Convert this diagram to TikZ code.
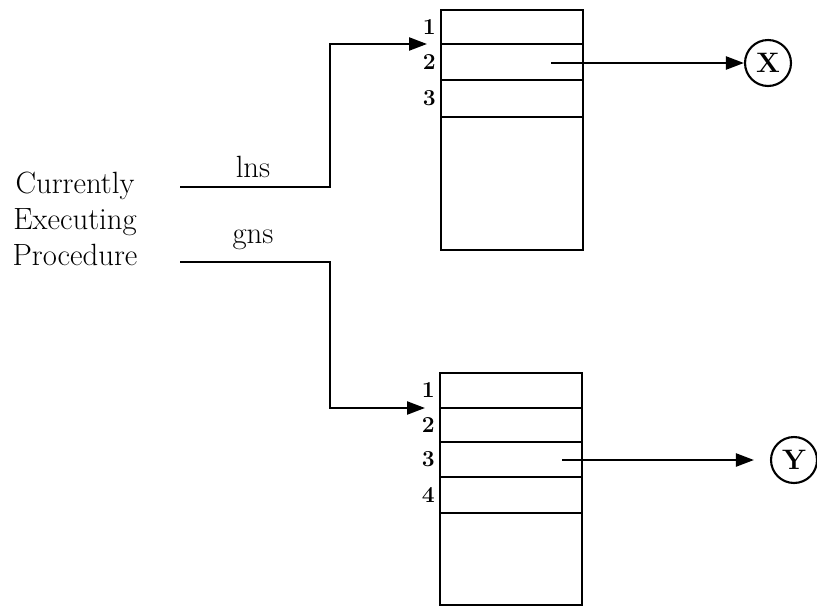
\documentclass[tikz,border=0pt]{standalone}
\usepackage{tikz}
\usetikzlibrary{arrows.meta, positioning}

\begin{document}
\begin{tikzpicture}[
        x=0.02cm, y=-0.02cm,
        row/.style={rectangle, draw, line width=1.3pt, minimum width=2.84cm, inner sep=0pt, outer sep=0pt, anchor=north},
        slot/.style={font=\bfseries\fontsize{13}{14}\selectfont, inner sep=0pt},
        obj/.style={circle, draw, line width=1.2pt, minimum size=0.92cm, inner sep=0pt, font=\bfseries\fontsize{16}{17}\selectfont},
        lbl/.style={font=\fontsize{17.5}{20.5}\selectfont, align=center},
        ptr/.style={-{Triangle[length=0.36cm, width=0.26cm]}, line width=1.3pt}
    ]
        \useasboundingbox (0,0) rectangle (817,609);

        % Procedure
        \node[lbl] (proc) at (75,219) {Currently\\Executing\\Procedure};

        % Local name space
        \node[row, minimum height=0.68cm] (lt1) at (512,10) {};
        \node[row, minimum height=0.72cm] (lt2) at (lt1.south) {};
        \node[row, minimum height=0.74cm] (lt3) at (lt2.south) {};
        \node[row, minimum height=2.66cm] (lt4) at (lt3.south) {};

        \node[slot, left=0.1cm of lt1] (lt1n) {1};
        \node[slot, left=0.1cm of lt2] (lt2n) {2};
        \node[slot, left=0.1cm of lt3] (lt3n) {3};

        % Global name space
        \node[row, minimum height=0.70cm] (gr1) at (511,373) {};
        \node[row, minimum height=0.68cm] (gr2) at (gr1.south) {};
        \node[row, minimum height=0.70cm] (gr3) at (gr2.south) {};
        \node[row, minimum height=0.72cm] (gr4) at (gr3.south) {};
        \node[row, minimum height=1.84cm] (gr5) at (gr4.south) {};

        \node[slot, left=0.1cm of gr1] (gr1n) {1};
        \node[slot, left=0.1cm of gr2] (gr2n) {2};
        \node[slot, left=0.1cm of gr3] (gr3n) {3};
        \node[slot, left=0.1cm of gr4] (gr4n) {4};

        % Objects
        \node[obj] (X) at (768,63) {X};
        \node[obj] (Y) at (794,460) {Y};

        % Pointers
        \coordinate (lnsfree) at (180,187);
        \coordinate (lnsbend) at (330,187);
        \node[lbl] (lns) at (253,167) {lns};
        \draw[ptr, shorten >=0.28cm] (lnsfree) -- (lnsbend) |- (lt1.south west);

        \coordinate (gnsfree) at (180,262);
        \coordinate (gnsbend) at (330,262);
        \node[lbl] (gns) at (253,240) {gns};
        \draw[ptr, shorten >=0.3cm] (gnsfree) -- (gnsbend) |- (gr1.south west);

        \coordinate (xsrc) at (551,63);
        \draw[ptr] (xsrc) -- (X);

        \coordinate (ysrc) at (562,460);
        \draw[ptr, shorten >=0.32cm] (ysrc) -- (Y);
    \end{tikzpicture}
\end{document}
